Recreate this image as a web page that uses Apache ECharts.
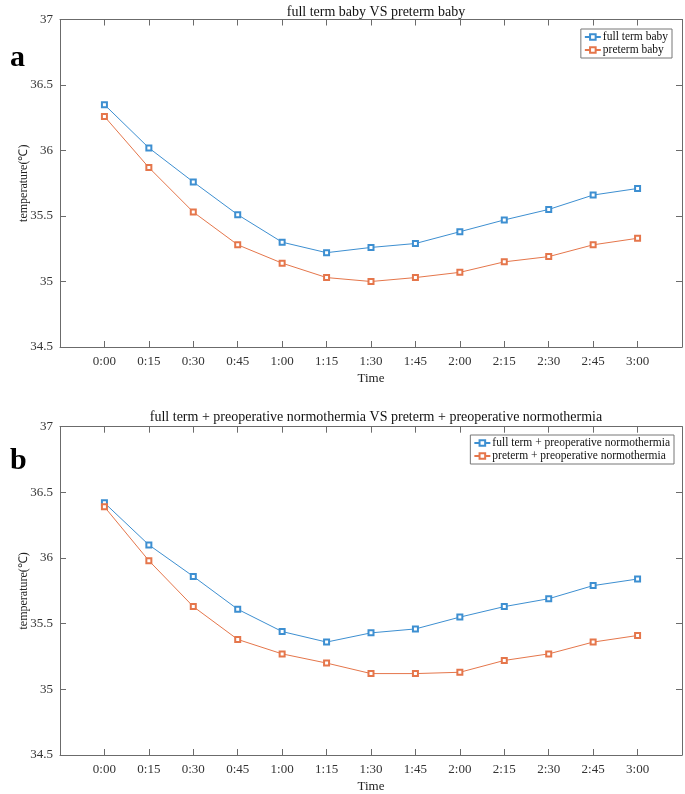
<!DOCTYPE html>
<html>
<head>
<meta charset="utf-8">
<script src="https://cdn.jsdelivr.net/npm/echarts@6/dist/echarts.min.js"></script>
<style>html,body{margin:0;padding:0;background:#fff}#c{width:685px;height:794px}</style>
</head>
<body>
<div id="c"></div>
<script>
var timeLabels = ['0:00','0:15','0:30','0:45','1:00','1:15','1:30','1:45','2:00','2:15','2:30','2:45','3:00'];
var fullTermA = [36.35,36.02,35.76,35.51,35.30,35.22,35.26,35.29,35.38,35.47,35.55,35.66,35.71];
var pretermA  = [36.26,35.87,35.53,35.28,35.14,35.03,35.00,35.03,35.07,35.15,35.19,35.28,35.33];
var fullTermB = [36.42,36.10,35.86,35.61,35.44,35.36,35.43,35.46,35.55,35.63,35.69,35.79,35.84];
var pretermB  = [36.39,35.98,35.63,35.38,35.27,35.20,35.12,35.12,35.13,35.22,35.27,35.36,35.41];
var nameA1 = 'full term baby', nameA2 = 'preterm baby';
var nameB1 = 'full term + preoperative normothermia', nameB2 = 'preterm + preoperative normothermia';
var titleA = 'full term baby VS preterm baby';
var titleB = 'full term + preoperative normothermia VS preterm + preoperative normothermia';

var SERIF = 'Liberation Serif';
var BLUE = '#3d8fd1', ORANGE = '#e5764b', AX = '#6b6b6b';

function pairs(v){ return v.map(function(y,i){ return [i,y]; }); }
function xFmt(v){ var i = Math.round(v); return (Math.abs(v-i)<1e-6 && i>=0 && i<timeLabels.length) ? timeLabels[i] : ''; }

function xAxes(gi){
  return [{
    type:'value', gridIndex:gi, min:-1, max:13, interval:1, position:'bottom',
    name:'Time', nameLocation:'middle', nameGap:25, nameMoveOverlap:false,
    nameTextStyle:{fontFamily:SERIF, fontSize:13, color:'#222'},
    axisLine:{show:true, onZero:false, lineStyle:{color:AX, width:1}},
    axisTick:{show:true, inside:true, length:6, lineStyle:{color:AX}},
    axisLabel:{formatter:xFmt, fontFamily:SERIF, fontSize:13, color:'#333', margin:8, showMinLabel:true, showMaxLabel:true},
    splitLine:{show:false}
  },{
    type:'value', gridIndex:gi, min:-1, max:13, interval:1, position:'top',
    axisLine:{show:true, onZero:false, lineStyle:{color:AX, width:1}},
    axisTick:{show:true, inside:true, length:6, lineStyle:{color:AX}},
    axisLabel:{show:false}, splitLine:{show:false}
  }];
}
function yAxes(gi){
  return [{
    type:'value', gridIndex:gi, min:34.5, max:37, interval:0.5, position:'left',
    name:'temperature(\u2103)', nameLocation:'middle', nameGap:30, nameMoveOverlap:false,
    nameTextStyle:{fontFamily:SERIF, fontSize:12, color:'#222'},
    axisLine:{show:true, onZero:false, lineStyle:{color:AX, width:1}},
    axisTick:{show:true, inside:true, length:6, lineStyle:{color:AX}},
    axisLabel:{fontFamily:SERIF, fontSize:13, color:'#333', margin:7},
    splitLine:{show:false}
  },{
    type:'value', gridIndex:gi, min:34.5, max:37, interval:0.5, position:'right',
    axisLine:{show:true, onZero:false, lineStyle:{color:AX, width:1}},
    axisTick:{show:true, inside:true, length:6, lineStyle:{color:AX}},
    axisLabel:{show:false}, splitLine:{show:false}
  }];
}
function line(name, data, color, xi, yi){
  return {
    type:'line', name:name, data:pairs(data), xAxisIndex:xi, yAxisIndex:yi,
    symbol:'emptyRect', symbolSize:5, showSymbol:true,
    lineStyle:{color:color, width:1}, itemStyle:{color:color, borderColor:color, borderWidth:1},
    animation:false
  };
}
function legend(names, top, right){
  return {
    data:names, top:top, right:right, orient:'vertical',
    backgroundColor:'#fff', borderColor:'#777', borderWidth:1, padding:[2,4,2,3],
    itemGap:1, itemWidth:16, itemHeight:7,
    textStyle:{fontFamily:SERIF, fontSize:11.5, color:'#111', padding:[0,0,0,-3]}
  };
}

var chart = echarts.init(document.getElementById('c'), null, {renderer:'canvas'});
chart.setOption({
  animation:false,
  backgroundColor:'#fff',
  title:[
    {text:titleA, left:371, top:0, textAlign:'center', textStyle:{fontFamily:SERIF, fontSize:14, fontWeight:'normal', color:'#111'}},
    {text:titleB, left:371, top:405, textAlign:'center', textStyle:{fontFamily:SERIF, fontSize:14, fontWeight:'normal', color:'#111'}},
    {text:'a', left:5, top:38, textStyle:{fontFamily:SERIF, fontSize:30, fontWeight:'bold', color:'#000'}},
    {text:'b', left:5, top:441, textStyle:{fontFamily:SERIF, fontSize:30, fontWeight:'bold', color:'#000'}}
  ],
  legend:[ legend([nameA1,nameA2], 29, 13), legend([nameB1,nameB2], 435, 11) ],
  grid:[
    {left:60, right:3, top:19.5, height:327.5},
    {left:60, right:3, top:426.7, height:328.3}
  ],
  xAxis: xAxes(0).concat(xAxes(1)),
  yAxis: yAxes(0).concat(yAxes(1)),
  series:[
    line(nameA1, fullTermA, BLUE, 0, 0),
    line(nameA2, pretermA, ORANGE, 0, 0),
    line(nameB1, fullTermB, BLUE, 2, 2),
    line(nameB2, pretermB, ORANGE, 2, 2)
  ]
});
</script>
</body>
</html>
